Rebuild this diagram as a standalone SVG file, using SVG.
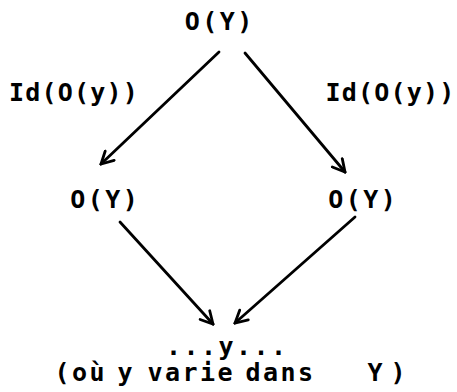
<svg xmlns="http://www.w3.org/2000/svg" width="457" height="392" viewBox="0 0 457 392">
<style>
.t{font-family:"DejaVu Sans Mono","Liberation Mono",monospace;font-weight:bold;font-size:25px;letter-spacing:2.45px;fill:#000}
.id{letter-spacing:1.2px}
.c{stroke:#000;stroke-width:2.8;fill:none;stroke-linecap:round}
</style>
<defs>
<marker id="ah" viewBox="0 0 16 16" refX="14" refY="8" markerWidth="16" markerHeight="16" markerUnits="userSpaceOnUse" orient="auto">
<path d="M2,1.5 L14,8 L2,14.5" fill="none" stroke="#000" stroke-width="2.8" stroke-linecap="round" stroke-linejoin="miter"/>
</marker>
</defs>
<rect width="457" height="392" fill="#fff"/>
<g id="connectors">
<line class="c" x1="219" y1="52" x2="101" y2="164" marker-end="url(#ah)"/>
<line class="c" x1="245" y1="53" x2="345" y2="172" marker-end="url(#ah)"/>
<line class="c" x1="120" y1="222" x2="213" y2="324" marker-end="url(#ah)"/>
<line class="c" x1="355" y1="217" x2="235" y2="323" marker-end="url(#ah)"/>
</g>
<g id="top"><text class="t" x="184.75" y="30">O(Y)</text></g>
<g id="label-left"><text class="t id" x="9" y="101">Id(O(y))</text></g>
<g id="label-right"><text class="t id" x="325.5" y="101">Id(O(y))</text></g>
<g id="mid-left"><text class="t" x="70.25" y="208">O(Y)</text></g>
<g id="mid-right"><text class="t" x="328.25" y="208">O(Y)</text></g>
<g id="bottom">
<text class="t" x="166" y="355">...y...</text>
<text class="t" y="381"><tspan x="54.5">(où</tspan><tspan x="117.5">y</tspan><tspan x="147.5">varie</tspan><tspan x="245.5">dans</tspan><tspan x="367.5">Y</tspan><tspan x="390.5">)</tspan></text>
</g>
</svg>
